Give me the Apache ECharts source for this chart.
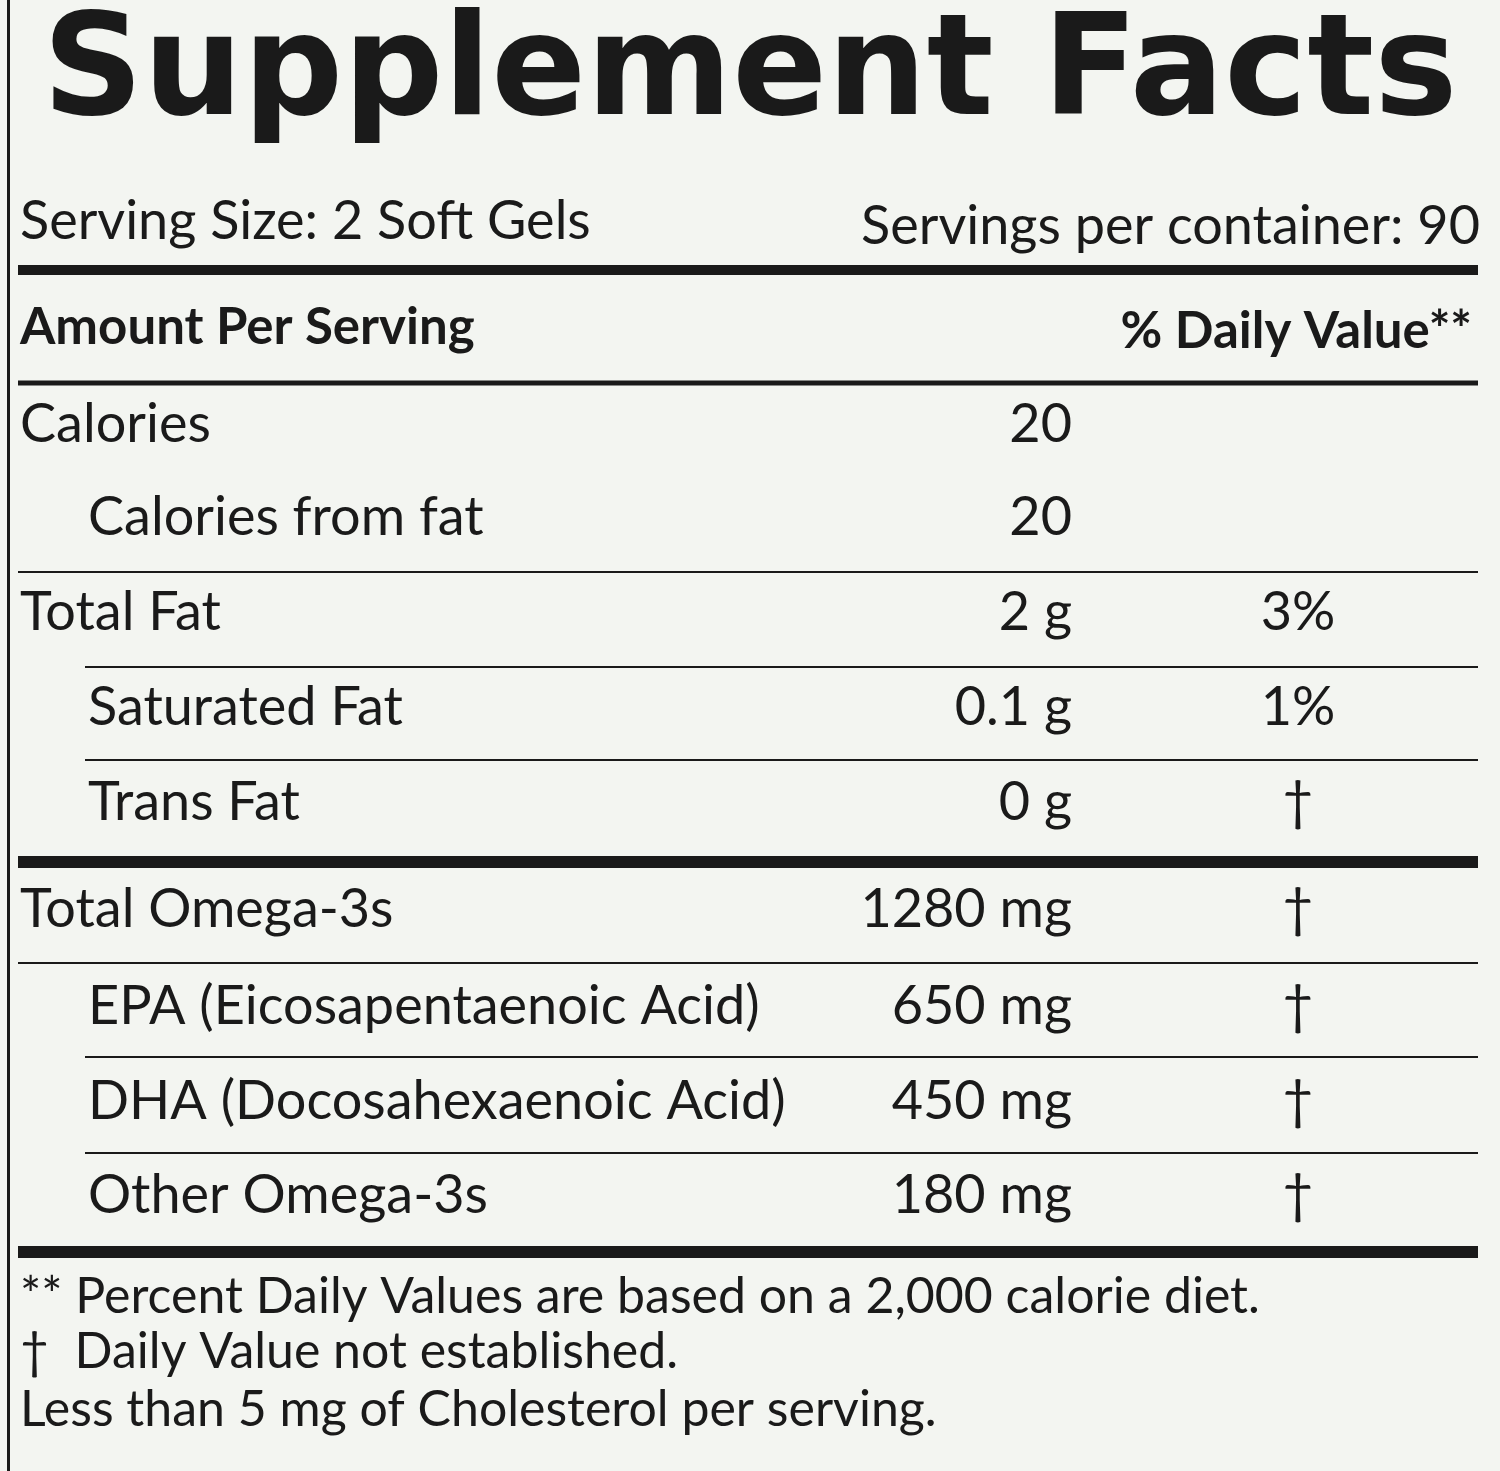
<!DOCTYPE html>
<html>
<head>
<meta charset="utf-8">
<script src="https://cdn.jsdelivr.net/npm/echarts@6/dist/echarts.min.js"></script>
<style>
  html, body { margin: 0; padding: 0; background: #f3f5f1; }
  #label { width: 1500px; height: 1471px; }
</style>
</head>
<body>
<div id="label"></div>
<script>
// Label content
const title = "Supplement Facts";
const servingSize = "Serving Size: 2 Soft Gels";
const servingsPer = "Servings per container: 90";
const headerLeft = "Amount Per Serving";
const headerRight = "% Daily Value**";

const rowNames = ["Calories", "Calories from fat", "Total Fat", "Saturated Fat", "Trans Fat",
    "Total Omega-3s", "EPA (Eicosapentaenoic Acid)", "DHA (Docosahexaenoic Acid)", "Other Omega-3s"];
const rowAmounts = ["20", "20", "2 g", "0.1 g", "0 g", "1280 mg", "650 mg", "450 mg", "180 mg"];
const rowDaily = ["", "", "3%", "1%", "†", "†", "†", "†", "†"];
const rowIndent = [0, 1, 0, 1, 1, 0, 1, 1, 1];
const rowY = [425, 518, 613, 708, 803, 910, 1007, 1102, 1196];

const footnotes = ["** Percent Daily Values are based on a 2,000 calorie diet.",
    "†  Daily Value not established.",
    "Less than 5 mg of Cholesterol per serving."];
const footY = [1297, 1352, 1410];

// rules: [y, x0, thickness]
const rules = [[270, 18, 10], [383, 18, 5], [572, 18, 2], [667, 85, 2], [760, 85, 2],
    [862, 18, 12], [963, 18, 2], [1057, 85, 2], [1153, 85, 2], [1252, 18, 12]];

const ink = "#1a1a1a";
const font = "Lato, 'Open Sans', sans-serif";
const chart = echarts.init(document.getElementById("label"), null, { renderer: "canvas" });

function txt(text, x, y, size, opts = {}) {
    return {
        type: "text",
        style: {
            text, x, y,
            fill: ink,
            font: `${opts.weight || "normal"} ${size}px ${opts.family || font}`,
            textAlign: opts.align || "left",
            textVerticalAlign: "middle",
        },
    };
}

const graphic = [];
graphic.push({ type: "rect", shape: { x: 7, y: 0, width: 3, height: 1471 }, style: { fill: ink } });
graphic.push(txt(title, 750, 78, 140, { weight: "bold", align: "center", family: "'DejaVu Sans', sans-serif" }));
graphic.push(txt(servingSize, 20, 222, 54));
graphic.push(txt(servingsPer, 1480, 227, 54, { align: "right" }));
graphic.push(txt(headerLeft, 20, 328, 51, { weight: "bold" }));
graphic.push(txt(headerRight, 1472, 332, 51, { weight: "bold", align: "right" }));

rules.forEach(([y, x0, t]) => {
    graphic.push({ type: "rect", shape: { x: x0, y: y - t / 2, width: 1478 - x0, height: t }, style: { fill: ink } });
});

rowNames.forEach((name, i) => {
    const y = rowY[i];
    graphic.push(txt(name, rowIndent[i] ? 88 : 20, y, 54));
    graphic.push(txt(rowAmounts[i], 1072, y, 54, { align: "right" }));
    if (rowDaily[i]) graphic.push(txt(rowDaily[i], 1298, y, 54, { align: "center" }));
});

footnotes.forEach((f, i) => graphic.push(txt(f, 20, footY[i], 50)));

chart.setOption({ backgroundColor: "#f3f5f1", graphic });
</script>
</body>
</html>
